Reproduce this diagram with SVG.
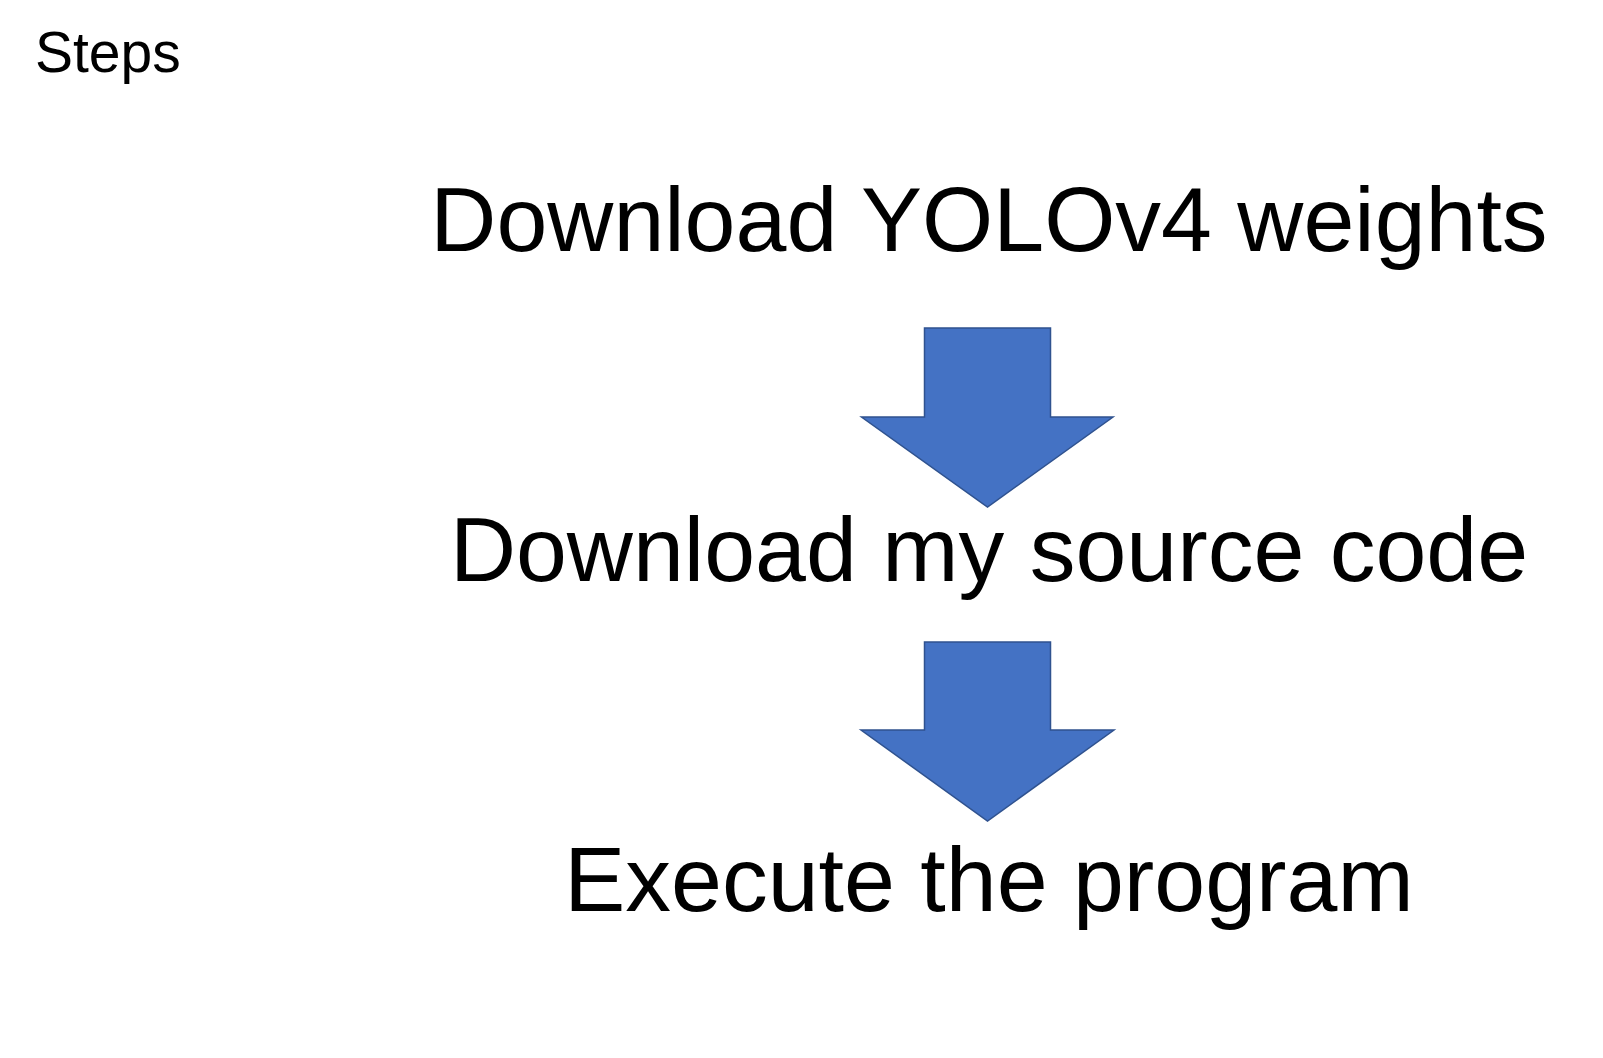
<svg xmlns="http://www.w3.org/2000/svg" width="1603" height="1058" viewBox="0 0 1603 1058">
<style>
.t{font-family:"Liberation Sans",Arial,sans-serif;fill:#000}
.big{font-size:91.5px;text-anchor:middle}
.arrow{fill:#4472C4;stroke:#2F528F;stroke-width:1.5;stroke-linejoin:miter}
</style>
<rect width="1603" height="1058" fill="#fff"/>
<text id="title" class="t" x="35" y="72" font-size="57">Steps</text>
<g id="step1"><text class="t big" x="989" y="251">Download YOLOv4 weights</text></g>
<g id="step2"><text class="t big" x="989" y="581">Download my source code</text></g>
<g id="step3"><text class="t big" x="989" y="911">Execute the program</text></g>
<g id="connectors">
<path class="arrow" d="M924.5,328 H1050.5 V417 H1113 L987.5,507 L861.5,417 H924.5 Z"/>
<path class="arrow" d="M924.5,642 H1050.5 V730 H1114 L987.5,821 L861,730 H924.5 Z"/>
</g>
</svg>
